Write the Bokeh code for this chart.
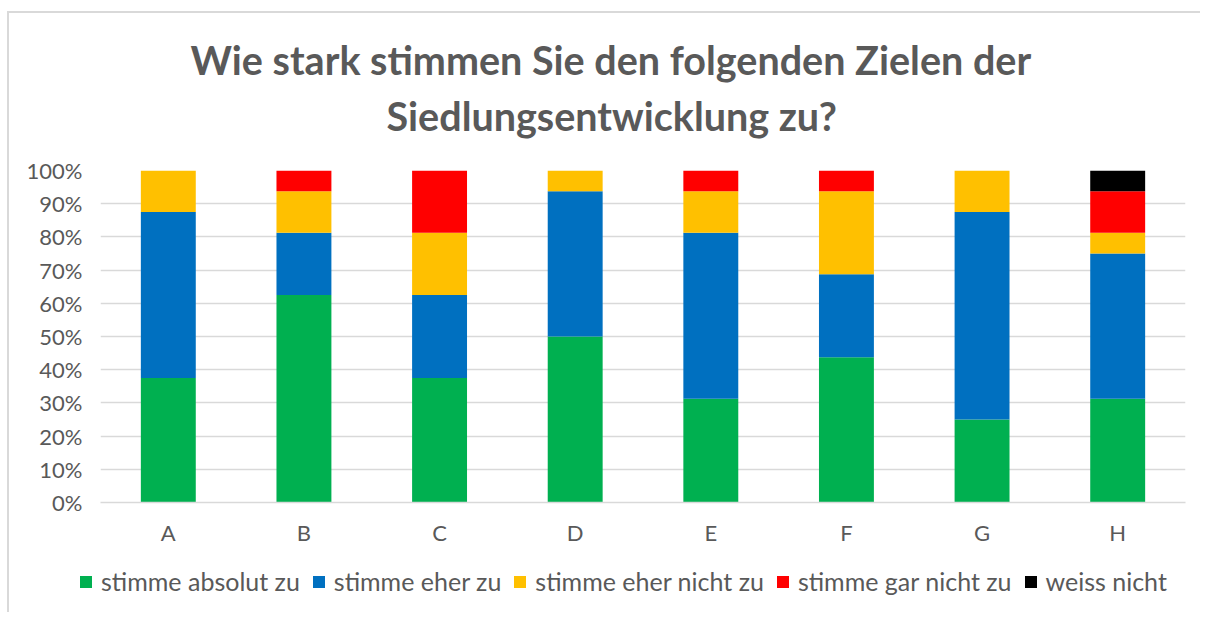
from bokeh.plotting import figure
from bokeh.layouts import column
from bokeh.models import (ColumnDataSource, NumeralTickFormatter, FixedTicker, Legend,
                          Range1d, Title)
from bokeh.embed import file_html
from bokeh.resources import INLINE

categories = ["A", "B", "C", "D", "E", "F", "G", "H"]
series = ["stimme absolut zu", "stimme eher zu", "stimme eher nicht zu", "stimme gar nicht zu", "weiss nicht"]
absolut = [0.375, 0.625, 0.375, 0.50, 0.3125, 0.4375, 0.25, 0.3125]
eher = [0.50, 0.1875, 0.25, 0.4375, 0.50, 0.25, 0.625, 0.4375]
eher_nicht = [0.125, 0.125, 0.1875, 0.0625, 0.125, 0.25, 0.125, 0.0625]
gar_nicht = [0.0, 0.0625, 0.1875, 0.0, 0.0625, 0.0625, 0.0, 0.125]
weiss_nicht = [0.0, 0.0, 0.0, 0.0, 0.0, 0.0, 0.0, 0.0625]
colors = ["#00B050", "#0070C0", "#FFC000", "#FF0000", "#000000"]
title_lines = ["Wie stark stimmen Sie den folgenden Zielen der", "Siedlungsentwicklung zu?"]

keys = ["s0", "s1", "s2", "s3", "s4"]
source = ColumnDataSource(dict(cat=categories, s0=absolut, s1=eher, s2=eher_nicht, s3=gar_nicht, s4=weiss_nicht))

FONT = "Lato"
TXT = "#595959"
EDGE = "linear-gradient(#d9d9d9, #d9d9d9)"

p = figure(x_range=categories, y_range=Range1d(0, 1), frame_width=1085, frame_height=332,
           output_backend="svg", toolbar_location=None,
           min_border_left=100, min_border_right=15, min_border_top=170, min_border_bottom=55)
p.border_fill_alpha = 0
p.styles = {"background": f"{EDGE} 8px 11px / 1192px 2px no-repeat, {EDGE} 7px 11px / 2px 546px no-repeat"}

renderers = p.vbar_stack(keys, x="cat", width=0.405, source=source, color=colors, line_width=0)

# p.above is stacked outward from the frame: blank spacer first, then line 2; p.title is outermost
p.add_layout(Title(text=" ", align="left", standoff=14, text_font=FONT,
                   text_font_size="10px"), "above")
p.add_layout(Title(text=title_lines[1], align="left", offset=286, standoff=8,
                   text_font=FONT, text_font_size="39.5px", text_font_style="bold",
                   text_color=TXT), "above")
p.title.text = title_lines[0]
p.title.align = "left"
p.title.offset = 90
p.title.standoff = 6
p.title.text_font = FONT
p.title.text_font_size = "39.5px"
p.title.text_font_style = "bold"
p.title.text_color = TXT

p.x_range.range_padding = 0
p.yaxis.ticker = FixedTicker(ticks=[i / 10 for i in range(11)])
p.yaxis.formatter = NumeralTickFormatter(format="0%")
for ax in (p.xaxis, p.yaxis):
    ax.axis_line_color = None
    ax.major_tick_line_color = None
    ax.minor_tick_line_color = None
    ax.major_label_text_font = FONT
    ax.major_label_text_font_size = "22px"
    ax.major_label_text_color = TXT
p.yaxis.major_label_standoff = 12
p.xaxis.major_label_standoff = 10
p.xaxis.axis_line_color = "#d9d9d9"
p.xaxis.axis_line_width = 1.5
p.xgrid.grid_line_color = None
p.ygrid.grid_line_color = "#d9d9d9"
p.ygrid.grid_line_width = 1.5
p.outline_line_color = None

# legend strip below the chart (same series, bars kept out of view)
p2 = figure(x_range=categories, y_range=Range1d(5, 6), frame_width=1200, frame_height=55,
            output_backend="svg", toolbar_location=None,
            min_border_left=0, min_border_right=0, min_border_top=0, min_border_bottom=0)
p2.border_fill_alpha = 0
p2.background_fill_alpha = 0
p2.styles = {"background": f"{EDGE} 7px 0px / 2px 55px no-repeat"}
p2.axis.visible = False
p2.grid.grid_line_color = None
p2.outline_line_color = None
leg_renderers = p2.vbar_stack(keys, x="cat", width=0.405, source=source, color=colors, line_width=0)

legend = Legend(items=[(s, [r]) for s, r in zip(series, leg_renderers)], orientation="horizontal",
                location=(78, 16), label_text_font=FONT, label_text_font_size="25px",
                label_text_color=TXT, glyph_width=15, glyph_height=15, spacing=11,
                label_standoff=8, border_line_color=None, background_fill_alpha=0,
                margin=0, padding=0)
p2.add_layout(legend, "center")

open("out.html", "w").write(file_html(column(p, p2, spacing=0), INLINE))
